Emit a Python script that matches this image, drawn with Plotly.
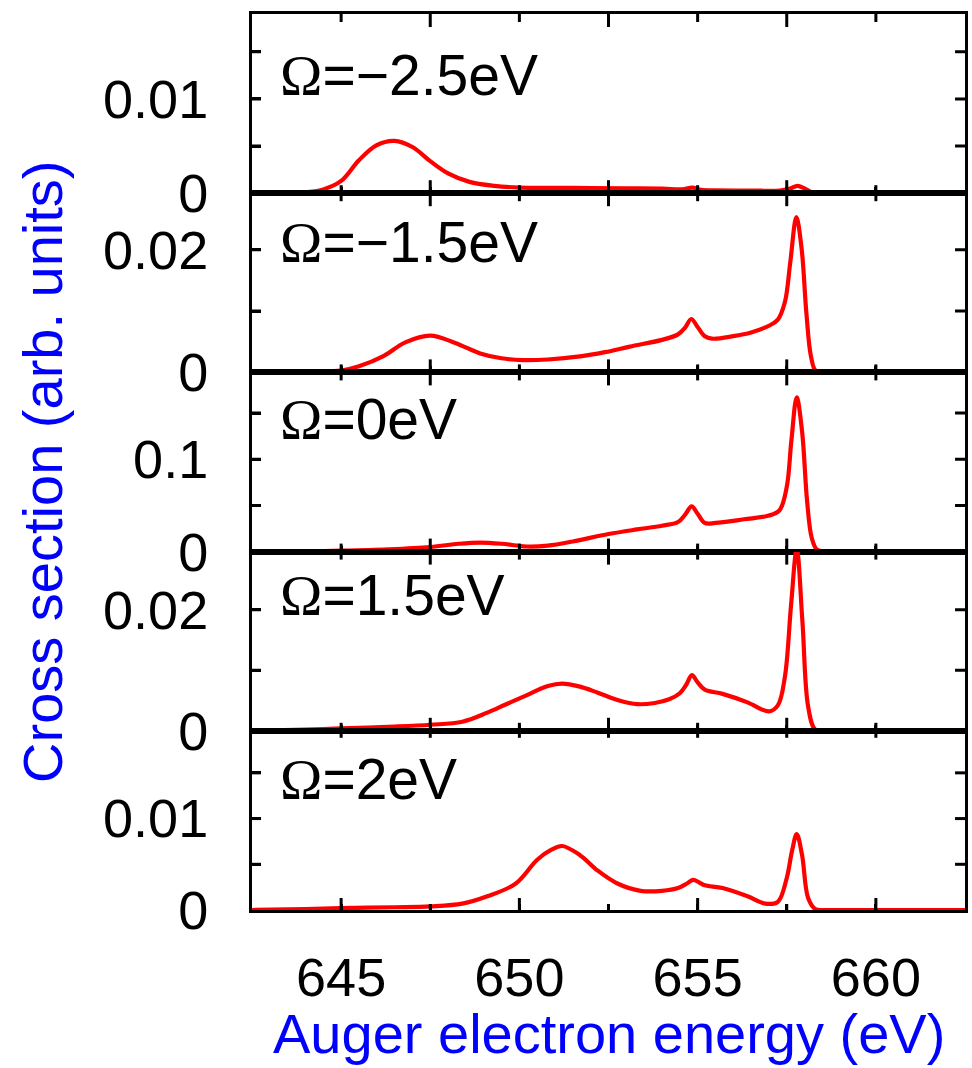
import plotly.graph_objects as go
from plotly.subplots import make_subplots

# Auger electron spectra for five detunings (energy in eV, cross section in arb. units)
omega_labels = ["Ω=−2.5eV", "Ω=−1.5eV", "Ω=0eV", "Ω=1.5eV", "Ω=2eV"]

e_m25 = [642.5, 643.5, 644.0, 644.5, 645.0, 645.5, 646.0, 646.5, 647.0, 647.5, 648.0,
         648.6, 649.3, 650.0, 651.0, 652.0, 653.0, 654.0, 654.6, 654.85, 655.1, 655.5,
         656.5, 657.3, 657.6, 657.8, 658.0, 658.2, 658.5, 660.0, 662.5]
s_m25 = [0, 0.00002, 0.0001, 0.0004, 0.0013, 0.0035, 0.0051, 0.00555, 0.0049, 0.0034, 0.0021,
         0.0012, 0.00078, 0.0006, 0.00057, 0.00055, 0.00052, 0.00048, 0.00042, 0.0006, 0.00035, 0.0003,
         0.00028, 0.00028, 0.0005, 0.00078, 0.0005, 0.0001, 0, 0, 0]

e_m15 = [642.5, 643.5, 644.3, 645.0, 645.5, 646.2, 646.8, 647.5, 648.2, 648.9, 649.5, 650.1,
         650.8, 651.7, 652.4, 653.1, 654.0, 654.45, 654.65, 654.82, 655.0, 655.2, 655.4, 656.0,
         656.5, 657.0, 657.25, 657.45, 657.6, 657.77, 657.92, 658.05, 658.18, 658.32, 658.6,
         660.0, 662.5]
s_m15 = [0, 0.00003, 0.00012, 0.0003, 0.0010, 0.0027, 0.0049, 0.0060, 0.0048, 0.0031, 0.0023, 0.0020,
         0.0021, 0.0026, 0.0033, 0.0042, 0.0053, 0.0062, 0.0073, 0.0087, 0.0074, 0.0059, 0.0055, 0.0059,
         0.0065, 0.0076, 0.0086, 0.0115, 0.018, 0.0253, 0.0200, 0.0097, 0.0026, 0.0002, 0,
         0, 0]

e_0 = [642.5, 644.0, 645.0, 646.3, 647.5, 648.3, 648.9, 649.5, 650.2, 650.8, 651.5, 652.5,
       653.3, 654.0, 654.45, 654.65, 654.83, 655.0, 655.2, 655.5, 656.3, 657.0, 657.3, 657.5,
       657.63, 657.78, 657.93, 658.07, 658.2, 658.35, 658.6, 660.0, 662.5]
s_0 = [0, 0.0003, 0.001, 0.0025, 0.005, 0.0085, 0.0098, 0.0085, 0.0055, 0.0065, 0.011, 0.019,
       0.024, 0.028, 0.032, 0.040, 0.049, 0.041, 0.031, 0.031, 0.035, 0.039, 0.045, 0.07,
       0.12, 0.167, 0.13, 0.055, 0.015, 0.002, 0, 0, 0]

e_p15 = [642.5, 644.0, 645.0, 646.5, 647.5, 648.4, 649.1, 649.6, 650.1, 650.8, 651.2, 651.7,
         652.2, 652.8, 653.3, 653.8, 654.2, 654.5, 654.68, 654.84, 655.0, 655.2, 655.7, 656.4,
         657.0, 657.25, 657.45, 657.62, 657.78, 657.94, 658.1, 658.3, 658.6, 660.0, 662.5]
s_p15 = [0, 0.0002, 0.0004, 0.0007, 0.001, 0.0015, 0.003, 0.0043, 0.0056, 0.0074, 0.0078, 0.0073,
         0.0063, 0.0050, 0.0044, 0.0046, 0.0052, 0.0062, 0.0076, 0.0092, 0.0080, 0.0068, 0.0061, 0.0047,
         0.0032, 0.0042, 0.0090, 0.0207, 0.0300, 0.018, 0.004, 0.0002, 0, 0, 0]

e_p2 = [642.5, 644.0, 645.0, 646.5, 647.5, 648.4, 649.1, 649.9, 650.5, 650.9, 651.2, 651.7,
        652.2, 652.75, 653.4, 654.0, 654.45, 654.7, 654.87, 655.05, 655.2, 655.7, 656.4, 656.9,
        657.25, 657.5, 657.65, 657.78, 657.93, 658.1, 658.3, 658.6, 660.0, 662.5]
s_p2 = [0, 0.0001, 0.0002, 0.0003, 0.0004, 0.0007, 0.0015, 0.0029, 0.0055, 0.0066, 0.0070, 0.0060,
        0.0043, 0.0029, 0.0021, 0.0021, 0.0024, 0.0029, 0.0033, 0.0030, 0.0027, 0.0024, 0.0015, 0.0007,
        0.0009, 0.0035, 0.0065, 0.0083, 0.0060, 0.0013, 0.0001, 0, 0, 0]

energies = [e_m25, e_m15, e_0, e_p15, e_p2]
sections = [s_m25, s_m15, s_0, s_p15, s_p2]

# y ticks per panel (every tick) and the text shown at each
PAD = "\u00a0\u00a0"
y_max = [0.0190, 0.0292, 0.194, 0.0296, 0.0196]
y_tickvals = [[0, 0.005, 0.01, 0.015], [0, 0.01, 0.02], [0, 0.05, 0.1, 0.15],
              [0, 0.01, 0.02], [0, 0.005, 0.01, 0.015]]
y_ticktext = [["0", "", "0.01", ""], ["0", "", "0.02"], ["0", "", "0.1", ""],
              ["0", "", "0.02"], ["0", "", "0.01", ""]]
label_y = [0.66, 0.73, 0.74, 0.76, 0.73]

x_range = [642.5, 662.5]
x_tickvals = [645, 647.5, 650, 652.5, 655, 657.5, 660]
x_ticktext = ["645", "", "650", "", "655", "", "660"]

FONT = "Liberation Sans, Arial, sans-serif"
TICK_SIZE = 54
PLOT_W, PANEL_H = 716.0, 179.2   # plot-area size of one panel in px
TICK_W = 3

fig = make_subplots(rows=5, cols=1, shared_xaxes=True, vertical_spacing=0)


def tick_mark(xref, yref, x0, x1, y0, y1):
    fig.add_shape(type="line", xref=xref, yref=yref, x0=x0, x1=x1, y0=y0, y1=y1,
                  line=dict(color="black", width=TICK_W), layer="above")


for i in range(5):
    fig.add_trace(
        go.Scatter(x=energies[i], y=sections[i], mode="lines",
                   line=dict(color="#ff0000", width=4.2, shape="spline", smoothing=1.0),
                   showlegend=False),
        row=i + 1, col=1)

    last = i == 4
    fig.update_xaxes(
        range=x_range, showline=True, linecolor="black", linewidth=3, mirror=True,
        ticks="inside", tickwidth=TICK_W, tickcolor="black", ticklen=6,
        tickmode="array", tickvals=x_tickvals, ticktext=x_ticktext,
        showticklabels=last, ticklabelstandoff=18,
        tickfont=dict(family=FONT, size=TICK_SIZE, color="black"),
        showgrid=False, zeroline=False,
        row=i + 1, col=1)

    fig.update_yaxes(
        range=[0, y_max[i]], showline=True, linecolor="black", linewidth=3, mirror=True,
        ticks="inside", tickwidth=TICK_W, tickcolor="black", ticklen=9,
        tickmode="array", tickvals=y_tickvals[i],
        ticktext=[t + PAD if t else t for t in y_ticktext[i]],
        tickfont=dict(family=FONT, size=TICK_SIZE, color="black"),
        showgrid=False, zeroline=False,
        row=i + 1, col=1)

    xa = "x" if i == 0 else f"x{i + 1}"
    ya = "y" if i == 0 else f"y{i + 1}"

    # tick marks on all four sides of the panel, pointing inward
    for k, xv in enumerate(x_tickvals):
        on_label = k % 2 == 0
        if last:
            bottom_len = 12 if on_label else 6
            top_len = 7
        else:
            bottom_len = 8 if on_label else 13
            top_len = bottom_len
        tick_mark(xa, ya + " domain", xv, xv, 0, bottom_len / PANEL_H)
        tick_mark(xa, ya + " domain", xv, xv, 1, 1 - top_len / PANEL_H)
    for yv in y_tickvals[i][1:]:
        tick_mark(xa + " domain", ya, 0, 9 / PLOT_W, yv, yv)
        tick_mark(xa + " domain", ya, 1, 1 - 10 / PLOT_W, yv, yv)

    fig.add_annotation(
        text='<span style="font-family:Liberation Serif, Times New Roman, serif">Ω</span>'
             + omega_labels[i][1:],
        xref=xa + " domain", yref=ya + " domain", x=0.036, y=label_y[i],
        xanchor="left", yanchor="middle",
        showarrow=False, font=dict(family=FONT, size=57, color="black"))

fig.add_annotation(
    text="Cross section (arb. units)", xref="paper", yref="paper",
    x=-0.293, y=0.489, xanchor="center", yanchor="middle", textangle=-90,
    showarrow=False, font=dict(family=FONT, size=56, color="#0000ff"))

fig.add_annotation(
    text="Auger electron energy (eV)", xref="paper", yref="paper",
    x=0.5, y=-0.138, xanchor="center", yanchor="middle",
    showarrow=False, font=dict(family=FONT, size=56, color="#0000ff"))

fig.update_layout(
    width=972, height=1068,
    margin=dict(l=252, r=4, t=14, b=158),
    paper_bgcolor="white", plot_bgcolor="white",
)

fig.write_html("out.html")
